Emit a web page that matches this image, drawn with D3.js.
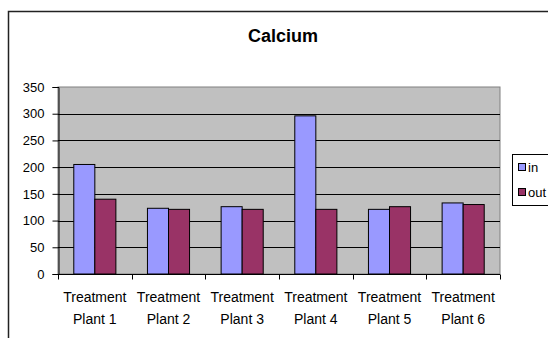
<!DOCTYPE html>
<html>
<head>
<meta charset="utf-8">
<script src="https://cdn.jsdelivr.net/npm/d3@7"></script>
<style>
  html, body { margin: 0; padding: 0; background: #fff; }
  svg { display: block; font-family: "Liberation Sans", Arial, sans-serif; }
</style>
</head>
<body>
<svg id="chart" width="548" height="338"></svg>
<script>
// Calcium readings per treatment plant
const categories = ["Treatment Plant 1", "Treatment Plant 2", "Treatment Plant 3",
                    "Treatment Plant 4", "Treatment Plant 5", "Treatment Plant 6"];
const seriesNames = ["in", "out"];
const inValues  = [205, 123, 126, 296, 121, 133];
const outValues = [140, 121, 121, 121, 126, 130];
const yTicks = [0, 50, 100, 150, 200, 250, 300, 350];
const colors = ["#9999FF", "#993366"];

const svg = d3.select("#chart");

// outer chart frame
svg.append("rect")
  .attr("x", 8.5).attr("y", 11.5)
  .attr("width", 560).attr("height", 340)
  .attr("fill", "#fff").attr("stroke", "#222").attr("stroke-width", 1.5);

svg.append("text")
  .attr("x", 283).attr("y", 42)
  .attr("text-anchor", "middle")
  .attr("font-size", 18).attr("font-weight", "bold")
  .text("Calcium");

const plot = { left: 58, right: 500, top: 87, bottom: 274 };

const x = d3.scaleBand().domain(categories)
  .range([plot.left, plot.right]).paddingInner(0).paddingOuter(0);
const y = d3.scaleLinear().domain([0, 350]).range([plot.bottom, plot.top]);

// plot area background
svg.append("rect")
  .attr("x", plot.left).attr("y", plot.top)
  .attr("width", plot.right - plot.left).attr("height", plot.bottom - plot.top)
  .attr("fill", "#C0C0C0").attr("stroke", "#808080").attr("stroke-width", 1);

// horizontal gridlines
svg.append("g").selectAll("line")
  .data(yTicks.filter(d => d > 0 && d < 350))
  .join("line")
  .attr("x1", plot.left).attr("x2", plot.right)
  .attr("y1", d => Math.round(y(d)) + 0.5).attr("y2", d => Math.round(y(d)) + 0.5)
  .attr("stroke", "#000").attr("stroke-width", 1);

// bars: gap width 150% of a bar, series side by side
const bw = x.bandwidth() / 3.5;
const series = [inValues, outValues];
series.forEach((vals, si) => {
  svg.append("g").selectAll("rect")
    .data(vals)
    .join("rect")
    .attr("x", (d, i) => x(categories[i]) + 0.75 * bw + si * bw)
    .attr("y", d => y(d))
    .attr("width", bw)
    .attr("height", d => y(0) - y(d))
    .attr("fill", colors[si])
    .attr("stroke", "#000").attr("stroke-width", 1);
});

// y axis
const yAxis = d3.axisLeft(y).tickValues(yTicks).tickSize(6).tickPadding(8);
const gy = svg.append("g")
  .attr("transform", `translate(${plot.left + 0.5},0)`)
  .call(yAxis);
gy.select(".domain").attr("stroke", "#000");
gy.selectAll(".tick line").attr("stroke", "#000");
gy.selectAll("text").attr("font-size", 13).attr("fill", "#000")
  .attr("font-family", "Liberation Sans, Arial, sans-serif");

// x axis with ticks at category boundaries
const gx = svg.append("g").attr("transform", `translate(0,${plot.bottom + 0.5})`);
gx.append("line")
  .attr("x1", plot.left).attr("x2", plot.right)
  .attr("stroke", "#000");
const bounds = categories.map(c => x(c)).concat([plot.right]);
gx.selectAll("line.tk").data(bounds).join("line")
  .attr("class", "tk")
  .attr("x1", d => Math.round(d) + 0.5).attr("x2", d => Math.round(d) + 0.5)
  .attr("y1", 0).attr("y2", 5)
  .attr("stroke", "#000");
const lbl = gx.selectAll("text.cat").data(categories).join("text")
  .attr("class", "cat")
  .attr("text-anchor", "middle")
  .attr("font-size", 14)
  .attr("x", d => x(d) + x.bandwidth() / 2);
lbl.append("tspan").attr("x", d => x(d) + x.bandwidth() / 2).attr("y", 27)
  .text(d => d.split(" ")[0]);
lbl.append("tspan").attr("x", d => x(d) + x.bandwidth() / 2).attr("y", 49)
  .text(d => d.split(" ").slice(1).join(" "));

// legend
const lg = svg.append("g").attr("transform", "translate(512,154)");
lg.append("rect").attr("x", 0.5).attr("y", 0.5).attr("width", 60).attr("height", 51)
  .attr("fill", "#fff").attr("stroke", "#000");
seriesNames.forEach((name, i) => {
  lg.append("rect")
    .attr("x", 6.5).attr("y", 9.5 + i * 25).attr("width", 7).attr("height", 7)
    .attr("fill", colors[i]).attr("stroke", "#000");
  lg.append("text")
    .attr("x", 16).attr("y", 18 + i * 25)
    .attr("font-size", 13)
    .text(name);
});
</script>
</body>
</html>
